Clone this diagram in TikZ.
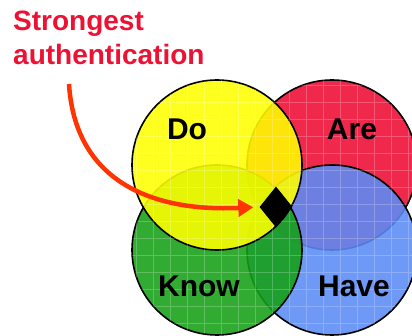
\documentclass[tikz,border=0pt]{standalone}
\usepackage{fontspec}
\setmainfont{Liberation Sans}
\usepackage{tikz}
\usetikzlibrary{arrows.meta,shapes.geometric}
\definecolor{titlered}{RGB}{236,18,52}
\definecolor{arrowred}{RGB}{255,52,0}
\definecolor{doyellow}{RGB}{255,255,0}
\definecolor{arered}{RGB}{238,12,52}
\definecolor{knowgreen}{RGB}{22,160,22}
\definecolor{haveblue}{RGB}{92,140,245}
\tikzset{
    set-circle/.style = {draw=black, line width=1.6pt, circle, minimum size=170pt, inner sep=0pt, fill opacity=0.88},
    set-label/.style = {text=black, inner sep=0pt, font=\fontsize{30}{30}\selectfont\bfseries},
    title-text/.style = {text=titlered, inner sep=0pt, align=left, font=\fontsize{28}{34}\selectfont\bfseries},
    point-arrow/.style = {draw=arrowred, line width=4.5pt, shorten >=6pt, -{Triangle[length=15pt,width=17pt]}},
    grid-line/.style = {draw=white, line width=0.6pt, opacity=0.22},
}

\begin{document}
\begin{tikzpicture}[x=1pt, y=-1pt]
\clip (0,0) rectangle (412,336);
\fill[white] (0,0) rectangle (412,336);

% the four sets, lowest first
\node[set-circle, fill=arered] (are) at (332,165) {};
\node[set-circle, fill=haveblue] (have) at (332,250) {};
\node[set-circle, fill=knowgreen] (know) at (217,250) {};
\node[set-circle, fill=doyellow] (do) at (217,165) {};

\begin{scope}
\clip (are.center) circle[radius=85] (have.center) circle[radius=85]
      (know.center) circle[radius=85] (do.center) circle[radius=85];
\draw[grid-line] (0,0) grid[step=17pt] (412,336);
\end{scope}

\node[set-label] (do-text) at (187,129) {Do};
\node[set-label] (are-text) at (352,129) {Are};
\node[set-label] (know-text) at (199,286) {Know};
\node[set-label] (have-text) at (354,286) {Have};

\node[diamond, fill=black, minimum width=33pt, minimum height=41pt, inner sep=0pt] (mark) at (276,207) {};

\node[title-text, anchor=north west] (title) at (13,11) {Strongest\\authentication};
\coordinate (arrow-start) at (69,84);
\draw[point-arrow] (arrow-start) .. controls (75,180) and (150,212) .. (mark.west);
\end{tikzpicture}
\end{document}
